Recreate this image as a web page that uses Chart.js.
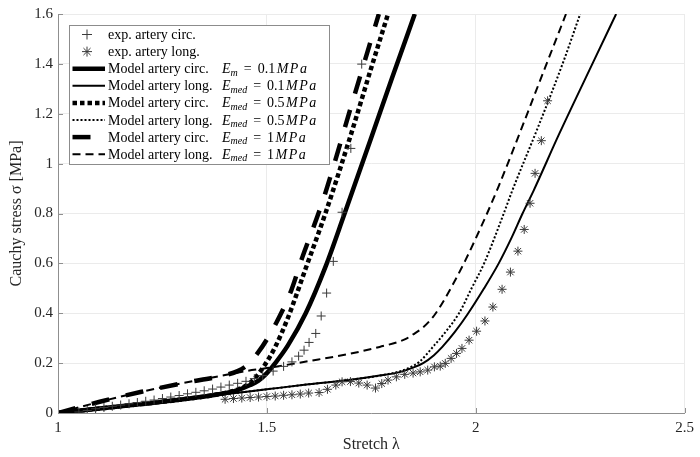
<!DOCTYPE html>
<html>
<head>
<meta charset="utf-8">
<script src="https://cdn.jsdelivr.net/npm/chart.js@4/dist/chart.umd.min.js"></script>
<style>
  html, body { margin: 0; padding: 0; background: #fff; }
</style>
</head>
<body>
<canvas id="myChart" width="700" height="457"></canvas>
<script>
// axis ticks
const stretchTicks = [1, 1.5, 2, 2.5];
const stressTicks = [0, 0.2, 0.4, 0.6, 0.8, 1, 1.2, 1.4, 1.6];

// measured points
const circExpStretch = [1.05, 1.07, 1.09, 1.11, 1.13, 1.15, 1.17, 1.19, 1.21, 1.23, 1.25, 1.27, 1.29, 1.31, 1.33, 1.35, 1.37, 1.39, 1.41, 1.43, 1.45, 1.47, 1.49, 1.515, 1.54, 1.56, 1.576, 1.589, 1.601, 1.617, 1.63, 1.643, 1.659, 1.68, 1.701, 1.727];
const circExpStress = [0.004, 0.010, 0.017, 0.022, 0.027, 0.032, 0.037, 0.042, 0.047, 0.052, 0.058, 0.064, 0.070, 0.077, 0.083, 0.089, 0.096, 0.104, 0.112, 0.119, 0.127, 0.138, 0.150, 0.168, 0.187, 0.205, 0.228, 0.252, 0.283, 0.319, 0.389, 0.481, 0.608, 0.805, 1.061, 1.399];

const longExpStretch = [1.40, 1.42, 1.44, 1.46, 1.48, 1.50, 1.52, 1.54, 1.56, 1.58, 1.60, 1.625, 1.645, 1.665, 1.68, 1.70, 1.72, 1.74, 1.76, 1.775, 1.79, 1.81, 1.83, 1.85, 1.867, 1.885, 1.901, 1.915, 1.927, 1.941, 1.954, 1.967, 1.984, 2.002, 2.022, 2.041, 2.063, 2.083, 2.101, 2.116, 2.130, 2.142, 2.157, 2.172];
const longExpStress = [0.055, 0.058, 0.060, 0.062, 0.064, 0.066, 0.068, 0.071, 0.073, 0.076, 0.080, 0.082, 0.095, 0.112, 0.125, 0.126, 0.120, 0.112, 0.100, 0.118, 0.132, 0.145, 0.155, 0.160, 0.165, 0.172, 0.185, 0.188, 0.199, 0.219, 0.239, 0.259, 0.292, 0.328, 0.369, 0.425, 0.496, 0.565, 0.649, 0.736, 0.841, 0.961, 1.092, 1.252];

// model curves
const circ01Stretch = [1.00, 1.10, 1.20, 1.30, 1.38, 1.43, 1.46, 1.48, 1.50, 1.52, 1.55, 1.593, 1.64, 1.685, 1.75, 1.80, 1.854];
const circ01Stress = [0, 0.018, 0.036, 0.055, 0.074, 0.092, 0.112, 0.130, 0.160, 0.200, 0.270, 0.400, 0.585, 0.795, 1.105, 1.345, 1.600];

const long01Stretch = [1.00, 1.10, 1.20, 1.30, 1.40, 1.50, 1.60, 1.70, 1.77, 1.82, 1.85, 1.874, 1.90, 1.92, 1.95, 1.98, 2.02, 2.055, 2.085, 2.112, 2.138, 2.20, 2.284, 2.336];
const long01Stress = [0, 0.016, 0.034, 0.054, 0.075, 0.095, 0.115, 0.133, 0.150, 0.165, 0.182, 0.200, 0.232, 0.265, 0.325, 0.395, 0.500, 0.600, 0.700, 0.800, 0.890, 1.120, 1.417, 1.600];

const circ05Stretch = [1.00, 1.10, 1.20, 1.30, 1.38, 1.43, 1.45, 1.47, 1.494, 1.52, 1.55, 1.593, 1.64, 1.70, 1.75, 1.79];
const circ05Stress = [0, 0.018, 0.036, 0.055, 0.074, 0.094, 0.110, 0.137, 0.190, 0.265, 0.380, 0.580, 0.800, 1.110, 1.385, 1.600];

const long05Stretch = [1.00, 1.10, 1.20, 1.30, 1.40, 1.50, 1.60, 1.70, 1.77, 1.82, 1.845, 1.865, 1.90, 1.93, 1.96, 1.99, 2.02, 2.067, 2.087, 2.15, 2.21, 2.25];
const long05Stress = [0, 0.016, 0.034, 0.054, 0.075, 0.095, 0.115, 0.133, 0.150, 0.168, 0.185, 0.205, 0.270, 0.330, 0.400, 0.500, 0.600, 0.800, 0.890, 1.150, 1.410, 1.600];

const circ1Stretch = [1.00, 1.10, 1.20, 1.30, 1.40, 1.43, 1.455, 1.48, 1.50, 1.522, 1.558, 1.585, 1.613, 1.638, 1.70, 1.768];
const circ1Stress = [0, 0.045, 0.085, 0.120, 0.152, 0.168, 0.195, 0.245, 0.295, 0.360, 0.490, 0.625, 0.752, 0.872, 1.220, 1.600];

const long1Stretch = [1.00, 1.10, 1.20, 1.30, 1.40, 1.45, 1.50, 1.60, 1.70, 1.77, 1.83, 1.85, 1.875, 1.90, 1.925, 1.95, 1.976, 2.00, 2.027, 2.055, 2.166, 2.216];
const long1Stress = [0, 0.045, 0.085, 0.120, 0.152, 0.168, 0.180, 0.208, 0.238, 0.265, 0.295, 0.315, 0.345, 0.390, 0.455, 0.530, 0.615, 0.700, 0.800, 0.910, 1.385, 1.600];

// legend text pieces
const seriesNames = ['exp. artery circ.', 'exp. artery long.', 'Model artery circ.', 'Model artery long.', 'Model artery circ.', 'Model artery long.', 'Model artery circ.', 'Model artery long.'];
const modulusSub = [null, null, 'm', 'med', 'med', 'med', 'med', 'med'];
const modulusValue = [null, null, '0.1', '0.1', '0.5', '0.5', '1', '1'];

const serif = '"Liberation Serif", "Times New Roman", serif';
Chart.defaults.font.family = serif;
Chart.defaults.font.size = 15;
Chart.defaults.color = '#262626';

function pts(xs, ys) {
  return xs.map((x, i) => ({ x: x, y: ys[i] }));
}

function labelOf(i) {
  if (!modulusSub[i]) return seriesNames[i];
  return seriesNames[i] + ' E' + modulusSub[i] + ' = ' + modulusValue[i] + 'MPa';
}

function markers(i, xs, ys, style) {
  return {
    label: labelOf(i),
    data: pts(xs, ys),
    showLine: false,
    pointStyle: style,
    pointRadius: 4.5,
    pointBorderWidth: 1,
    borderColor: '#3a3a3a',
    backgroundColor: '#3a3a3a'
  };
}

function curve(i, xs, ys, width, dash) {
  return {
    label: labelOf(i),
    data: pts(xs, ys),
    showLine: true,
    pointRadius: 0,
    borderColor: '#000',
    backgroundColor: '#000',
    borderWidth: width,
    borderDash: dash,
    borderCapStyle: 'butt',
    cubicInterpolationMode: 'monotone',
    clip: 0
  };
}

const datasets = [
  markers(0, circExpStretch, circExpStress, 'cross'),
  markers(1, longExpStretch, longExpStress, 'star'),
  curve(2, circ01Stretch, circ01Stress, 4.5, []),
  curve(3, long01Stretch, long01Stress, 2, []),
  curve(4, circ05Stretch, circ05Stress, 4.5, [4.5, 3]),
  curve(5, long05Stretch, long05Stress, 2, [2, 2]),
  curve(6, circ1Stretch, circ1Stress, 4.5, [18, 17]),
  curve(7, long1Stretch, long1Stress, 2, [8, 5])
];

// short tick marks pointing into the plot
const inwardTicks = {
  id: 'inwardTicks',
  afterDatasetsDraw(chart) {
    const { ctx, chartArea: a, scales: { x, y } } = chart;
    ctx.save();
    ctx.strokeStyle = '#8f8f8f';
    ctx.lineWidth = 1;
    ctx.beginPath();
    x.ticks.forEach(t => {
      const px = Math.round(x.getPixelForValue(t.value)) + 0.5;
      ctx.moveTo(px, a.bottom);
      ctx.lineTo(px, a.bottom - 5);
    });
    y.ticks.forEach(t => {
      const py = Math.round(y.getPixelForValue(t.value)) + 0.5;
      ctx.moveTo(a.left, py);
      ctx.lineTo(a.left + 5, py);
    });
    ctx.stroke();
    ctx.restore();
  }
};

// boxed legend in the upper left corner, with math-style labels
const legendBox = {
  id: 'legendBox',
  afterDraw(chart) {
    const ctx = chart.ctx;
    const a = chart.chartArea;
    const x0 = Math.round(a.left) + 11, y0 = Math.round(a.top) + 11;
    const w = 260, h = 139, rowH = 17.1;
    ctx.save();
    ctx.fillStyle = '#fff';
    ctx.fillRect(x0, y0, w, h);
    ctx.strokeStyle = '#8c8c8c';
    ctx.lineWidth = 1;
    ctx.strokeRect(x0 + 0.5, y0 + 0.5, w, h);

    chart.data.datasets.forEach((ds, i) => {
      const cy = y0 + 9.5 + i * rowH;
      const sx = x0 + 3.5, ex = x0 + 36;
      ctx.save();
      if (ds.showLine) {
        ctx.strokeStyle = ds.borderColor;
        ctx.lineWidth = ds.borderWidth;
        ctx.setLineDash(ds.borderDash);
        ctx.lineCap = 'butt';
        ctx.beginPath();
        ctx.moveTo(sx, cy);
        ctx.lineTo(ex, cy);
        ctx.stroke();
      } else {
        ctx.strokeStyle = ds.borderColor;
        ctx.fillStyle = ds.backgroundColor;
        Chart.helpers.drawPoint(ctx, { pointStyle: ds.pointStyle, radius: 5, borderWidth: 1, rotation: 0 }, x0 + 18, cy);
      }
      ctx.restore();

      let cx = x0 + 39;
      const base = cy + 4.5;
      ctx.fillStyle = '#000';
      ctx.textBaseline = 'alphabetic';
      const put = (txt, style, size, dy) => {
        ctx.font = style + ' ' + size + 'px ' + serif;
        ctx.fillText(txt, cx, base + dy);
        cx += ctx.measureText(txt).width;
      };
      put(seriesNames[i], 'normal', 14, 0);
      if (modulusSub[i]) {
        cx = Math.max(cx + 6, x0 + 153);
        put('E', 'italic', 14, 0);
        put(modulusSub[i], 'italic', 10, 2.5);
        cx += 6;
        put('=', 'normal', 14, 0);
        cx += 6;
        put(modulusValue[i], 'normal', 14, 0);
        cx += 1.5;
        ['M', 'P', 'a'].forEach(ch => { put(ch, 'italic', 14, 0); cx += 1.5; });
      }
    });
    ctx.restore();
  }
};

const ctx = document.getElementById('myChart').getContext('2d');

new Chart(ctx, {
  type: 'scatter',
  data: { datasets: datasets },
  options: {
    responsive: false,
    animation: false,
    devicePixelRatio: 1,
    layout: { padding: { left: 0, right: 9, top: 13, bottom: 0 } },
    plugins: {
      legend: { display: false },
      tooltip: { enabled: false }
    },
    scales: {
      x: {
        type: 'linear',
        min: 1,
        max: 2.5,
        afterBuildTicks: s => { s.ticks = stretchTicks.map(v => ({ value: v })); },
        afterFit: s => { s.height = 44; },
        grid: { color: '#ebebeb', drawTicks: false },
        border: { color: '#8f8f8f', width: 1 },
        ticks: { padding: 6, maxRotation: 0, callback: v => String(v) },
        title: { display: true, text: 'Stretch λ', font: { size: 16 }, padding: { top: 0, bottom: 3 } }
      },
      y: {
        type: 'linear',
        min: 0,
        max: 1.6,
        afterBuildTicks: s => { s.ticks = stressTicks.map(v => ({ value: v })); },
        afterFit: s => { s.width = 58; },
        grid: { color: '#ebebeb', drawTicks: false },
        border: { color: '#8f8f8f', width: 1 },
        ticks: { padding: 5, callback: v => String(v) },
        title: { display: true, text: 'Cauchy stress σ [MPa]', font: { size: 16 }, padding: { top: 7, bottom: 0 } }
      }
    }
  },
  plugins: [inwardTicks, legendBox]
});
</script>
</body>
</html>
